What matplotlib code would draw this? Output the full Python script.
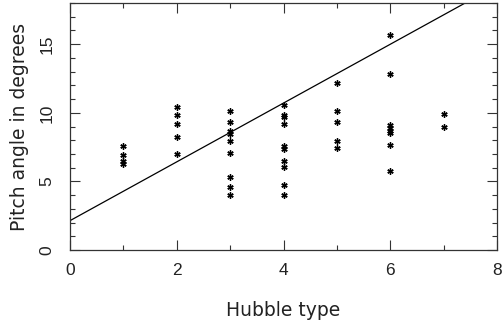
import numpy as np
import matplotlib.pyplot as plt

plt.rcParams['font.family'] = ['Liberation Sans', 'DejaVu Sans']

# pitch angle per Hubble type
hubble_type = [1, 1, 1, 1,
               2, 2, 2, 2, 2,
               3, 3, 3, 3, 3, 3, 3, 3, 3,
               4, 4, 4, 4, 4, 4, 4, 4, 4, 4,
               5, 5, 5, 5, 5,
               6, 6, 6, 6, 6, 6, 6, 6,
               7, 7]
pitch = [7.6, 6.9, 6.5, 6.3,
         10.45, 9.85, 9.2, 8.25, 7.0,
         10.15, 9.35, 8.65, 8.45, 7.95, 7.1, 5.3, 4.6, 4.05,
         10.55, 9.85, 9.7, 9.15, 7.6, 7.4, 6.5, 6.05, 4.75, 4.05,
         12.15, 10.15, 9.3, 7.95, 7.45,
         15.7, 12.85, 9.1, 8.9, 8.65, 8.55, 7.65, 5.75,
         9.9, 9.0]

fit_intercept = 2.15
fit_slope = 2.14
fit_x = [0, 8]

fig = plt.figure(figsize=(5.04, 3.27), dpi=100)
ax = fig.add_axes([0.139, 0.235, 0.847, 0.756])

ax.plot(hubble_type, pitch, linestyle='none', marker=(6, 2, 0),
        markersize=4.5, markeredgewidth=1.0, color='black')
ax.plot(fit_x, [fit_intercept + fit_slope * x for x in fit_x],
        color='black', linewidth=0.9)

ax.set_xlim(0, 8)
ax.set_ylim(0, 18)
ax.set_xticks([0, 2, 4, 6, 8])
ax.set_xticks([1, 3, 5, 7], minor=True)
ax.set_yticks([0, 5, 10, 15])
ax.set_yticks(np.arange(0, 19, 1), minor=True)

ax.tick_params(which='both', direction='in', top=True, right=True,
               labelsize=12.5, width=0.8, color='#333333', labelcolor='#222222')
ax.tick_params(which='major', length=7)
ax.tick_params(which='minor', length=3.5)
ax.tick_params(axis='x', which='major', pad=9)
ax.tick_params(axis='y', which='major', pad=11)
for lbl in ax.get_yticklabels():
    lbl.set_rotation(90)
    lbl.set_va('center')

for s in ax.spines.values():
    s.set_linewidth(0.9)
    s.set_color('#333333')

lab_font = dict(family='DejaVu Sans', fontsize=13.5, color='#222222')
ax.set_xlabel('Hubble type', labelpad=17, **lab_font)
ax.set_ylabel('Pitch angle in degrees', labelpad=8, **lab_font)

plt.savefig('out.png', dpi=100)
